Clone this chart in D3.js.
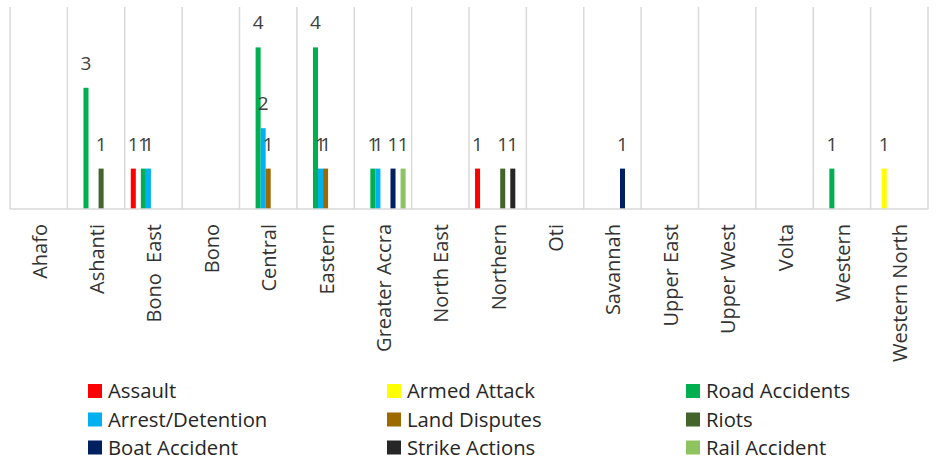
<!DOCTYPE html>
<html>
<head>
<meta charset="utf-8">
<script src="https://cdn.jsdelivr.net/npm/d3@7"></script>
<style>
  html, body { margin: 0; padding: 0; background: #fff; }
  svg { display: block; }
  text { font-family: "Open Sans", "Noto Sans", sans-serif; }
</style>
</head>
<body>
<svg id="chart" width="937" height="459"></svg>
<script>
const categories = ["Ahafo", "Ashanti", "Bono  East", "Bono", "Central", "Eastern", "Greater Accra",
  "North East", "Northern", "Oti", "Savannah", "Upper East", "Upper West", "Volta", "Western", "Western North"];

const seriesNames = ["Assault", "Armed Attack", "Road Accidents", "Arrest/Detention", "Land Disputes",
  "Riots", "Boat Accident", "Strike Actions", "Rail Accident"];

const seriesColors = ["#FF0000", "#FFFF00", "#00B050", "#00B0F0", "#9C6A00",
  "#43652B", "#002060", "#262626", "#8EC460"];

// values per series, in category order
const assault         = [0,0,1,0,0,0,0,0,1,0,0,0,0,0,0,0];
const armedAttack     = [0,0,0,0,0,0,0,0,0,0,0,0,0,0,0,1];
const roadAccidents   = [0,3,1,0,4,4,1,0,0,0,0,0,0,0,1,0];
const arrestDetention = [0,0,1,0,2,1,1,0,0,0,0,0,0,0,0,0];
const landDisputes    = [0,0,0,0,1,1,0,0,0,0,0,0,0,0,0,0];
const riots           = [0,1,0,0,0,0,0,0,1,0,0,0,0,0,0,0];
const boatAccident    = [0,0,0,0,0,0,1,0,0,0,1,0,0,0,0,0];
const strikeActions   = [0,0,0,0,0,0,0,0,1,0,0,0,0,0,0,0];
const railAccident    = [0,0,0,0,0,0,1,0,0,0,0,0,0,0,0,0];

const seriesValues = [assault, armedAttack, roadAccidents, arrestDetention, landDisputes,
  riots, boatAccident, strikeActions, railAccident];

const yMax = 5;

const svg = d3.select("#chart");
const plot = { left: 10, right: 928, top: 7, bottom: 209 };

const x0 = d3.scaleBand().domain(categories).range([plot.left, plot.right]).padding(0);
const bw = x0.bandwidth();
const x1 = d3.scaleBand().domain(seriesNames).range([bw * 0.105, bw * 0.895]).padding(0);
const y = d3.scaleLinear().domain([0, yMax]).range([plot.bottom, plot.top]);

// vertical gridlines at category boundaries
const bounds = categories.map(c => x0(c)).concat([plot.right]);
svg.append("g").selectAll("line").data(bounds).join("line")
  .attr("x1", d => d).attr("x2", d => d)
  .attr("y1", y(yMax)).attr("y2", y(0))
  .attr("stroke", "#d9d9d9").attr("stroke-width", 1.5);

// flatten data
const data = [];
categories.forEach((c, ci) => {
  seriesNames.forEach((s, si) => {
    data.push({ cat: c, series: s, value: seriesValues[si][ci], color: seriesColors[si] });
  });
});
const nonZero = data.filter(d => d.value > 0);

// bars
svg.append("g").selectAll("rect").data(nonZero).join("rect")
  .attr("x", d => x0(d.cat) + x1(d.series))
  .attr("y", d => y(d.value))
  .attr("width", x1.bandwidth())
  .attr("height", d => y(0) - y(d.value))
  .attr("fill", d => d.color);

// baseline
svg.append("line")
  .attr("x1", plot.left).attr("x2", plot.right)
  .attr("y1", y(0)).attr("y2", y(0))
  .attr("stroke", "#d9d9d9").attr("stroke-width", 1.5);

// data labels
svg.append("g").selectAll("text").data(nonZero).join("text")
  .attr("x", d => x0(d.cat) + x1(d.series) + x1.bandwidth() / 2)
  .attr("y", d => y(d.value) - 18)
  .attr("text-anchor", "middle")
  .attr("font-size", 19)
  .attr("fill", "#404040")
  .text(d => d.value);

// category axis labels
const xAxis = d3.axisBottom(x0).tickSize(0).tickPadding(0);
const gx = svg.append("g").attr("transform", `translate(0,${plot.bottom})`).call(xAxis);
gx.select(".domain").remove();
gx.selectAll(".tick text")
  .attr("font-family", "\"Open Sans\", sans-serif")
  .attr("font-size", 20)
  .attr("fill", "#333")
  .attr("text-anchor", "end")
  .attr("dy", null)
  .attr("y", 0)
  .attr("transform", "translate(8,15) rotate(-90)")
  .attr("x", 0)
  .style("white-space", "pre")
  .attr("xml:space", "preserve");

// legend
const legendCols = [88, 387, 686];
const legendRows = [391, 419.5, 447.5];
const lg = svg.append("g");
seriesNames.forEach((s, i) => {
  const cx = legendCols[i % 3], cy = legendRows[Math.floor(i / 3)];
  const g = lg.append("g").attr("transform", `translate(${cx},${cy})`);
  g.append("rect").attr("x", 0).attr("y", -7).attr("width", 14).attr("height", 14).attr("fill", seriesColors[i]);
  g.append("text").attr("x", 20).attr("y", 0).attr("dy", "0.35em")
    .attr("font-size", 20.3).attr("fill", "#262626").text(s);
});
</script>
</body>
</html>
